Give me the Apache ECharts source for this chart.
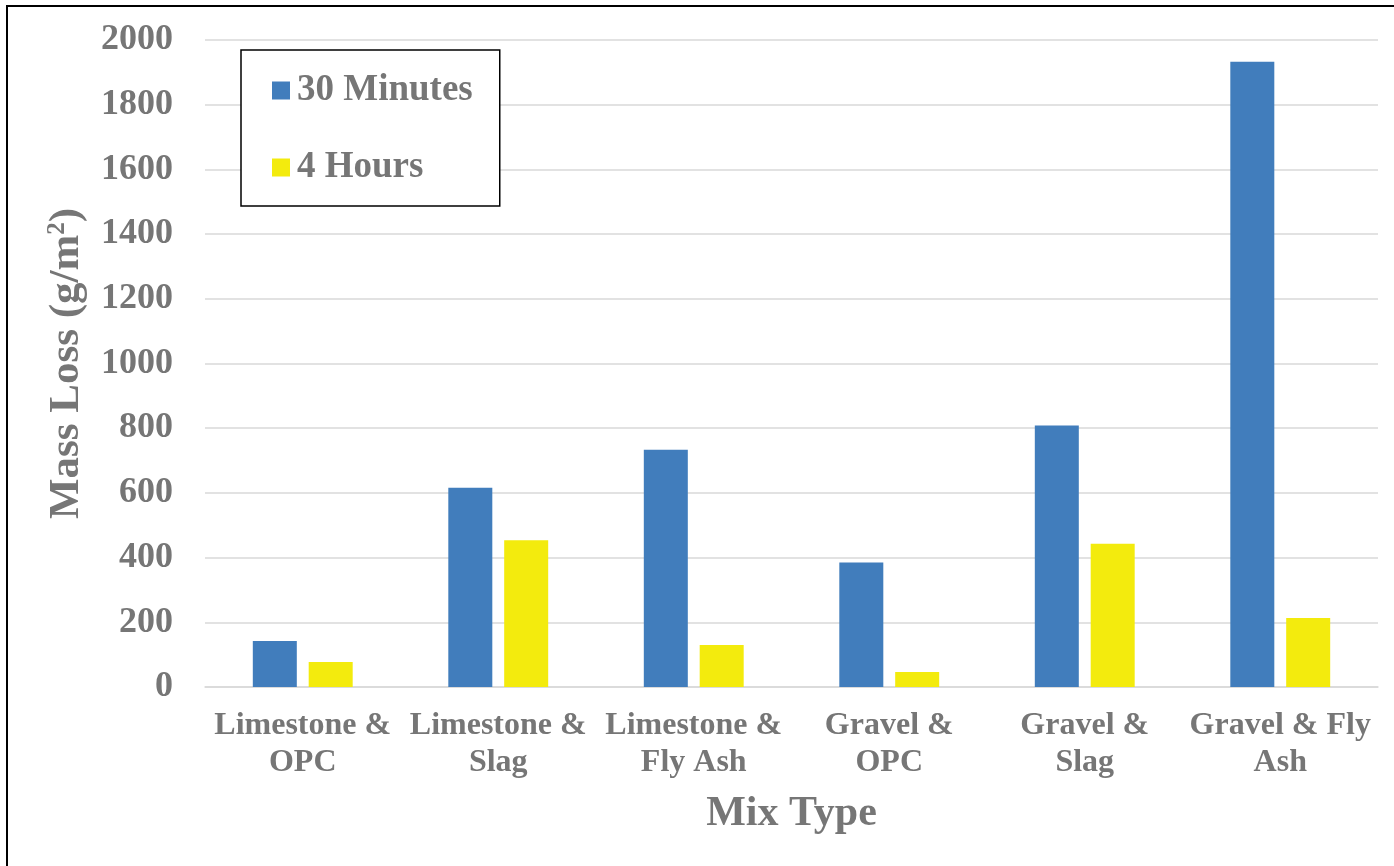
<!DOCTYPE html>
<html>
<head>
<meta charset="utf-8">
<script src="https://cdn.jsdelivr.net/npm/echarts@6/dist/echarts.min.js"></script>
<style>
html,body{margin:0;padding:0;background:#fff;}
#chart{width:1394px;height:866px;}
</style>
</head>
<body>
<div id="chart"></div>
<script>
const categories = ['Limestone &\nOPC', 'Limestone &\nSlag', 'Limestone &\nFly Ash', 'Gravel &\nOPC', 'Gravel &\nSlag', 'Gravel & Fly\nAsh'];
const seriesNames = ['30 Minutes', '4 Hours'];
const values30Min = [142, 616, 733, 385, 808, 1933];
const values4Hr = [77, 454, 130, 46, 443, 213];
const yTicks = { min: 0, max: 2000, interval: 200 };

const FONT = '"Liberation Serif", "Times New Roman", serif';
const GRAY = '#767676';

const chart = echarts.init(document.getElementById('chart'));
chart.setOption({
  backgroundColor: '#fff',
  animation: false,
  graphic: [{
    type: 'rect',
    shape: { x: 7, y: 6, width: 1420, height: 900 },
    style: { fill: 'none', stroke: '#000', lineWidth: 2 },
    z: 100
  }],
  legend: {
    orient: 'vertical',
    left: 241,
    top: 50,
    padding: [22, 27, 20, 31],
    itemGap: 40,
    itemWidth: 18,
    itemHeight: 18,
    icon: 'rect',
    borderColor: '#000',
    borderWidth: 1.5,
    backgroundColor: '#fff',
    textStyle: { fontFamily: FONT, fontWeight: 'bold', fontSize: 37, color: GRAY, padding: [0, 0, 0, 2] },
    data: seriesNames
  },
  grid: { left: 205, right: 16, top: 40, bottom: 179, containLabel: false },
  xAxis: {
    type: 'category',
    data: categories,
    name: 'Mix Type',
    nameLocation: 'middle',
    nameGap: 106,
    nameTextStyle: { fontFamily: FONT, fontWeight: 'bold', fontSize: 42, color: GRAY, verticalAlign: 'top' },
    axisLine: { show: true, lineStyle: { color: '#d9d9d9', width: 1.5 } },
    axisTick: { show: false },
    axisLabel: { fontFamily: FONT, fontWeight: 'bold', fontSize: 32, color: GRAY, lineHeight: 37, margin: 20, interval: 0 }
  },
  yAxis: {
    type: 'value',
    min: yTicks.min, max: yTicks.max, interval: yTicks.interval,
    name: 'Mass Loss (g/m{sup|2})',
    nameLocation: 'middle',
    nameGap: 117,
    nameRotate: 90,
    nameTextStyle: {
      fontFamily: FONT, fontWeight: 'bold', fontSize: 43, color: GRAY,
      rich: {
        sup: { fontFamily: FONT, fontWeight: 'bold', fontSize: 25, color: GRAY, verticalAlign: 'top', padding: [0, 0, 16, 0] }
      }
    },
    axisLine: { show: false },
    axisTick: { show: false },
    splitLine: { lineStyle: { color: '#d9d9d9', width: 1.5 } },
    axisLabel: { fontFamily: FONT, fontWeight: 'bold', fontSize: 36, color: GRAY, margin: 32, formatter: function (v) { return String(v); } }
  },
  series: [
    { name: seriesNames[0], type: 'bar', data: values30Min, barWidth: 44, barGap: '27%', itemStyle: { color: '#417DBC' } },
    { name: seriesNames[1], type: 'bar', data: values4Hr, barWidth: 44, barGap: '27%', itemStyle: { color: '#F3EB0D' } }
  ]
});
</script>
</body>
</html>
